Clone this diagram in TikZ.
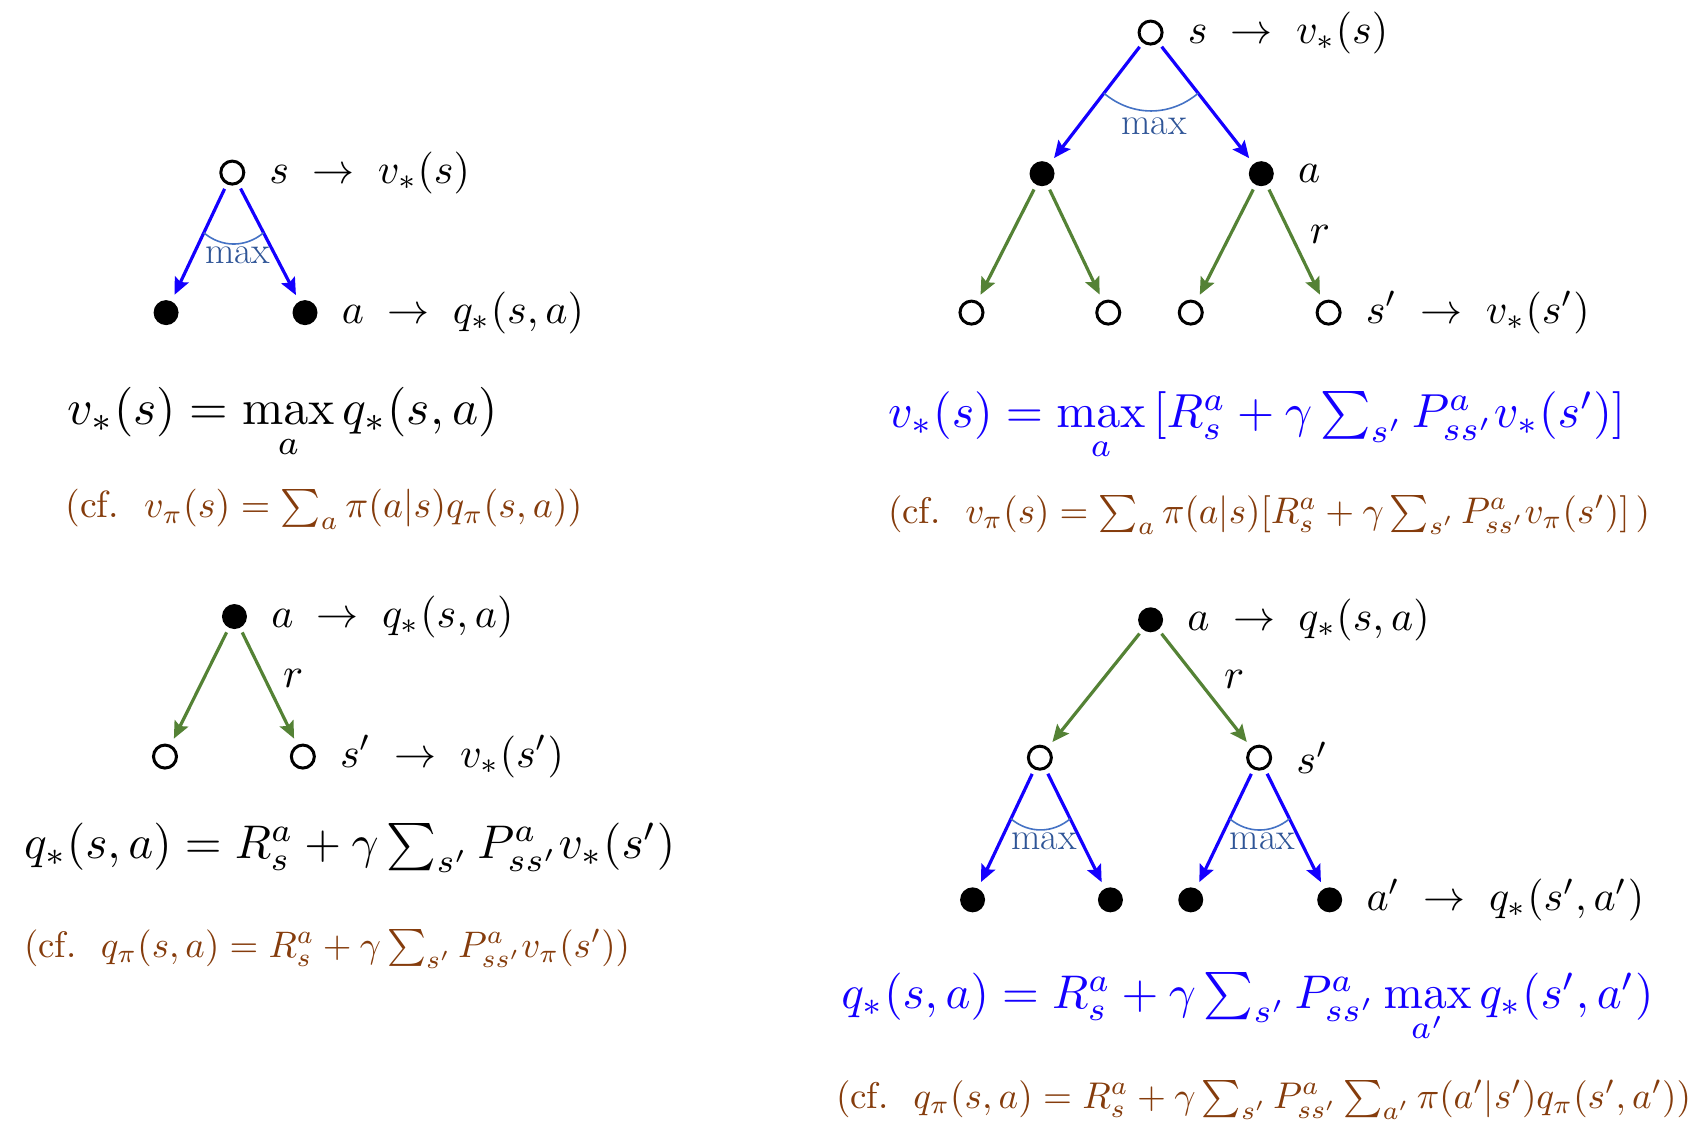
\documentclass[tikz,border=0pt]{standalone}
\usepackage{amsmath}
\usetikzlibrary{arrows.meta,calc,positioning}
\definecolor{arrblue}{RGB}{20,0,255}
\definecolor{eqblue}{RGB}{20,0,255}
\definecolor{arrgreen}{RGB}{84,130,53}
\definecolor{cfbrown}{RGB}{133,60,12}
\definecolor{arcblue}{RGB}{68,114,196}
\definecolor{maxblue}{RGB}{47,85,151}
\newcommand{\fitw}[2]{\resizebox{#1}{!}{$#2$}}
\newcommand{\lb}[1]{\scalebox{4.2}{$#1$}}
\begin{document}
\begin{tikzpicture}[x=1.0855pt,y=-1.0855pt,
  opennode/.style={circle,draw=black,line width=3pt,minimum size=23pt,inner sep=0pt,fill=white},
  fillnode/.style={circle,fill=black,minimum size=25pt,inner sep=0pt},
  barrow/.style={draw=arrblue,line width=3.2pt,-{Stealth[length=17pt,width=15pt,inset=3pt]},shorten <=5pt,shorten >=7pt},
  garrow/.style={barrow,draw=arrgreen},
  maxarc/.style={draw=arcblue,line width=1.6pt},
  maxlab/.style={text=maxblue,font=\fontsize{38}{42}\selectfont,inner sep=0pt},
  lab/.style={inner sep=0pt},
  eqn/.style={anchor=base west,inner sep=0pt},
  node distance=24pt
]
\path[use as bounding box] (0,0) rectangle (1568,1043);

% ---------- top left ----------
\node[opennode] (tla) at (214,159) {};
\node[fillnode] (tlb) at (153,288) {};
\node[fillnode] (tlc) at (281,288) {};
\draw[barrow] (tla) -- (tlb);
\draw[barrow] (tla) -- (tlc);
\draw[maxarc] ($(tla)!0.43!(tlb)$) to[bend right=40] ($(tla)!0.43!(tlc)$);
\node[maxlab] (tlmax) at (219,235) {max};
\node[lab,right=of tla] (tlal) {\lb{s \;\to\; v_*(s)}};
\node[lab,right=of tlc] (tlcl) {\lb{a \;\to\; q_*(s,a)}};
\node[eqn] (tleq) at (62,391) {\fitw{430pt}{v_*(s) = \max\limits_a q_*(s,a)}};
\node[eqn,text=cfbrown] (tlcf) at (60,477) {\fitw{517pt}{\text{(cf.\ \ }v_\pi(s) = \sum_a \pi(a|s) q_\pi(s,a))}};

% ---------- top right ----------
\node[opennode] (tra) at (1060,30) {};
\node[fillnode] (trb) at (960,160) {};
\node[fillnode] (trc) at (1162,160) {};
\node[opennode] (trd) at (895,288) {};
\node[opennode] (tre) at (1021,288) {};
\node[opennode] (trf) at (1097,288) {};
\node[opennode] (trg) at (1224,288) {};
\draw[barrow] (tra) -- (trb);
\draw[barrow] (tra) -- (trc);
\draw[maxarc] ($(tra)!0.43!(trb)$) to[bend right=40] ($(tra)!0.43!(trc)$);
\node[maxlab] (trmax) at (1063,116) {max};
\draw[garrow] (trb) -- (trd);
\draw[garrow] (trb) -- (tre);
\draw[garrow] (trc) -- (trf);
\draw[garrow] (trc) -- (trg);
\node[lab,right=of tra] (tral) {\lb{s \;\to\; v_*(s)}};
\node[lab,right=of trc] (trcl) {\lb{a}};
\node[lab] (trr) at (1216,216) {\lb{r}};
\node[lab,right=of trg] (trgl) {\lb{s' \;\to\; v_*(s')}};
\node[eqn,text=eqblue] (treq) at (818,394) {\fitw{737pt}{v_*(s) = \max\limits_a \,[R_s^a + \gamma \sum_{s'} P_{ss'}^a v_*(s')]}};
\node[eqn,text=cfbrown] (trcf) at (818,482) {\fitw{762pt}{\text{(cf.\ \ }v_\pi(s) = \sum_a \pi(a|s)[R_s^a + \gamma \sum_{s'} P_{ss'}^a v_\pi(s')]\,)}};

% ---------- bottom left ----------
\node[fillnode] (bla) at (216,568) {};
\node[opennode] (blb) at (152,697) {};
\node[opennode] (blc) at (279,697) {};
\draw[garrow] (bla) -- (blb);
\draw[garrow] (bla) -- (blc);
\node[lab,right=of bla] (blal) {\lb{a \;\to\; q_*(s,a)}};
\node[lab] (blr) at (270,625) {\lb{r}};
\node[lab,right=of blc] (blcl) {\lb{s' \;\to\; v_*(s')}};
\node[eqn] (bleq) at (22,791) {\fitw{651pt}{q_*(s,a) = R_s^a + \gamma \sum_{s'} P_{ss'}^a v_*(s')}};
\node[eqn,text=cfbrown] (blcf) at (22,882) {\fitw{606pt}{\text{(cf.\ \ }q_\pi(s,a) = R_s^a + \gamma \sum_{s'} P_{ss'}^a v_\pi(s'))}};

% ---------- bottom right ----------
\node[fillnode] (bra) at (1060,571) {};
\node[opennode] (brb) at (958,698) {};
\node[opennode] (brc) at (1160,698) {};
\node[fillnode] (brd) at (896,829) {};
\node[fillnode] (bre) at (1023,829) {};
\node[fillnode] (brf) at (1097,829) {};
\node[fillnode] (brg) at (1225,829) {};
\draw[garrow] (bra) -- (brb);
\draw[garrow] (bra) -- (brc);
\draw[barrow] (brb) -- (brd);
\draw[barrow] (brb) -- (bre);
\draw[barrow] (brc) -- (brf);
\draw[barrow] (brc) -- (brg);
\draw[maxarc] ($(brb)!0.43!(brd)$) to[bend right=40] ($(brb)!0.43!(bre)$);
\draw[maxarc] ($(brc)!0.43!(brf)$) to[bend right=40] ($(brc)!0.43!(brg)$);
\node[maxlab] (brmax1) at (962,775) {max};
\node[maxlab] (brmax2) at (1163,775) {max};
\node[lab,right=of bra] (bral) {\lb{a \;\to\; q_*(s,a)}};
\node[lab] (brr) at (1137,626) {\lb{r}};
\node[lab,right=of brc] (brcl) {\lb{s'}};
\node[lab,right=of brg] (brgl) {\lb{a' \;\to\; q_*(s',a')}};
\node[eqn,text=eqblue] (breq) at (775,929) {\fitw{812pt}{q_*(s,a) = R_s^a + \gamma \sum_{s'} P_{ss'}^a \max\limits_{a'} q_*(s',a')}};
\node[eqn,text=cfbrown] (brcf) at (770,1021) {\fitw{855pt}{\text{(cf.\ \ }q_\pi(s,a) = R_s^a + \gamma \sum_{s'} P_{ss'}^a \sum_{a'} \pi(a'|s') q_\pi(s',a'))}};
\end{tikzpicture}
\end{document}
